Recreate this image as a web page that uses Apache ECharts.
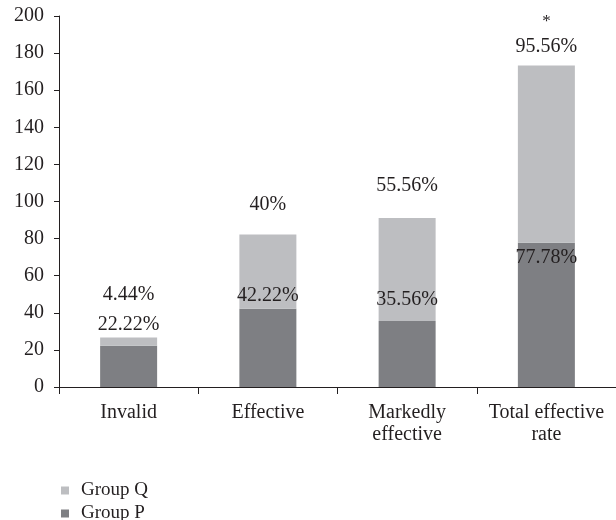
<!DOCTYPE html>
<html>
<head>
<meta charset="utf-8">
<script src="https://cdn.jsdelivr.net/npm/echarts@6/dist/echarts.min.js"></script>
<style>html,body{margin:0;padding:0;background:#fff}#c{width:616px;height:520px}</style>
</head>
<body>
<div id="c"></div>
<script>
var categories = ['Invalid', 'Effective', 'Markedly\neffective', 'Total effective\nrate'];
var groupP = [22.22, 42.22, 35.56, 77.78];
var groupQ = [4.44, 40, 55.56, 95.56];
var significance = ['', '', '', '*'];
var yTicks = {min: 0, max: 200, interval: 20};

// label placement (styles)
var pLabelDist = [11, 3, 11, -25];
var qLabelDist = [32, 19, 21, 8];

var FONT = '"Liberation Serif", "DejaVu Serif", serif';
var TXT = '#231f20';

var pData = groupP.map(function (v, i) {
  return {value: v, label: {distance: pLabelDist[i]}};
});
var qData = groupQ.map(function (v, i) {
  return {value: v, label: {distance: qLabelDist[i]}};
});

function legendAt(name, top) {
  return {
    orient: 'vertical', left: 56, top: top, itemWidth: 8, itemHeight: 8,
    icon: 'rect', data: [name],
    textStyle: {fontFamily: FONT, fontSize: 19, color: TXT, padding: [0, 0, 0, 7]}
  };
}

var chart = echarts.init(document.getElementById('c'));
chart.setOption({
  animation: false,
  textStyle: {fontFamily: FONT, color: TXT},
  grid: {left: 59, top: 16, width: 560, bottom: 133, containLabel: false},
  legend: [legendAt('Group Q', 476), legendAt('Group P', 499)],
  xAxis: {
    type: 'category', data: categories,
    axisLine: {lineStyle: {color: TXT, width: 1}},
    axisTick: {show: true, length: 7, alignWithLabel: false, lineStyle: {color: TXT}},
    axisLabel: {fontFamily: FONT, fontSize: 20, color: TXT, margin: 15, lineHeight: 22, interval: 0}
  },
  yAxis: {
    type: 'value', min: yTicks.min, max: yTicks.max, interval: yTicks.interval,
    axisLine: {show: true, lineStyle: {color: TXT, width: 1}},
    axisTick: {show: true, length: 5, inside: false, lineStyle: {color: TXT}},
    splitLine: {show: false},
    axisLabel: {fontFamily: FONT, fontSize: 20, color: TXT, margin: 15}
  },
  series: [
    {
      name: 'Group P', type: 'bar', stack: 'a', barWidth: 57, data: pData,
      itemStyle: {color: '#7e7f83'},
      label: {show: true, position: 'top', fontFamily: FONT, fontSize: 20, color: TXT,
        formatter: function (p) { return p.value + '%'; }}
    },
    {
      name: 'Group Q', type: 'bar', stack: 'a', barWidth: 57, data: qData,
      itemStyle: {color: '#bdbec1'},
      label: {show: true, position: 'top', fontFamily: FONT, fontSize: 20, color: TXT,
        formatter: function (p) {
          var s = significance[p.dataIndex];
          return (s ? '{s|' + s + '}\n' : '') + '{v|' + p.value + '%}';
        },
        rich: {
          s: {fontFamily: FONT, fontSize: 17, color: TXT, lineHeight: 27},
          v: {fontFamily: FONT, fontSize: 20, color: TXT, lineHeight: 22}
        }
      }
    }
  ]
});
</script>
</body>
</html>
